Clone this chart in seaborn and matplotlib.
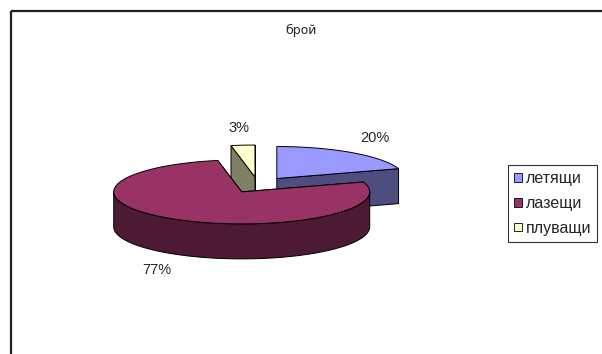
import matplotlib

matplotlib.use("Agg")
import matplotlib.pyplot as plt
import numpy as np
import seaborn as sns
from matplotlib.colors import to_rgb
from matplotlib.patches import Patch, Polygon, Rectangle

TITLE = "брой"
categories = ["летящи", "лазещи", "плуващи"]
shares = [20, 77, 3]
face_hex = ["#9999FF", "#993366", "#FFFFCC"]

sns.set_theme(style="white")
plt.rcParams["font.family"] = ["Liberation Sans", "DejaVu Sans"]

W, H = 602, 354
CX, CY = 258, 185  # pie centre in pixels
RX, RY = 128, 32  # ellipse radii of the tilted disc
DEPTH = 35
EXPLODE = 0.25


def arc(cx, cy, a0, a1, n=90):
    t = np.radians(np.linspace(a0, a1, n))
    return np.column_stack([cx + RX * np.sin(t), cy - RY * np.cos(t)])


def darker(c, k=0.5):
    return tuple(v * k for v in to_rgb(c))


fig = plt.figure(figsize=(W / 100, H / 100), dpi=100)
ax = fig.add_axes([0, 0, 1, 1])
ax.set_xlim(0, W)
ax.set_ylim(H, 0)
ax.axis("off")

# chart frame (only left and top edges inside the picture)
ax.add_patch(Rectangle((10.5, 10.5), 700, 500, fill=False, edgecolor="#202020", lw=1.6))

ax.text(301, 30, TITLE, ha="center", va="center", fontsize=9, family=["DejaVu Sans"])

# slice geometry: clockwise from 12 o'clock
total = sum(shares)
bounds = np.concatenate([[0], np.cumsum(shares) / total * 360])
slices = []
for i, (cat, val, col) in enumerate(zip(categories, shares, face_hex)):
    a0, a1 = bounds[i], bounds[i + 1]
    mid = np.radians((a0 + a1) / 2)
    cx = CX + EXPLODE * RX * np.sin(mid)
    cy = CY - EXPLODE * RY * np.cos(mid)
    slices.append((cy, cx, a0, a1, mid, val, col))

# back slices first
for cy, cx, a0, a1, mid, val, col in sorted(slices, key=lambda s: s[0]):
    side = darker(col)
    for a in (a0, a1):
        p = arc(cx, cy, a, a, 1)[0]
        quad = [(cx, cy), p, (p[0], p[1] + DEPTH), (cx, cy + DEPTH)]
        ax.add_patch(Polygon(quad, closed=True, facecolor=side, edgecolor="black", lw=0.7))
    v0, v1 = max(a0, 90), min(a1, 270)
    if v1 > v0:
        top = arc(cx, cy, v0, v1)
        wall = np.vstack([top, (top + [0, DEPTH])[::-1]])
        ax.add_patch(Polygon(wall, closed=True, facecolor=side, edgecolor="black", lw=0.7))
    face = np.vstack([[cx, cy], arc(cx, cy, a0, a1)])
    ax.add_patch(Polygon(face, closed=True, facecolor=col, edgecolor="black", lw=0.7))

# percentage labels outside the slices
for cy, cx, a0, a1, mid, val, col in slices:
    lx = cx + 1.3 * RX * np.sin(mid)
    ly = cy - 1.55 * RY * np.cos(mid) + (DEPTH if np.cos(mid) < 0 else 0)
    ax.text(lx, ly, f"{val / total:.0%}", ha="center", va="center", fontsize=10.5)

handles = [Patch(facecolor=c, edgecolor="black", lw=0.6) for c in face_hex]
leg = ax.legend(
    handles,
    categories,
    loc="upper left",
    bbox_to_anchor=(508 / W, 1 - 165 / H),
    borderaxespad=0,
    frameon=True,
    fancybox=False,
    fontsize=11.5,
    handlelength=0.45,
    handleheight=0.45,
    handletextpad=0.25,
    labelspacing=0.6,
    borderpad=0.4,
)
leg.get_frame().set_edgecolor("black")
leg.get_frame().set_linewidth(0.8)

fig.savefig("out.png", dpi=100)
